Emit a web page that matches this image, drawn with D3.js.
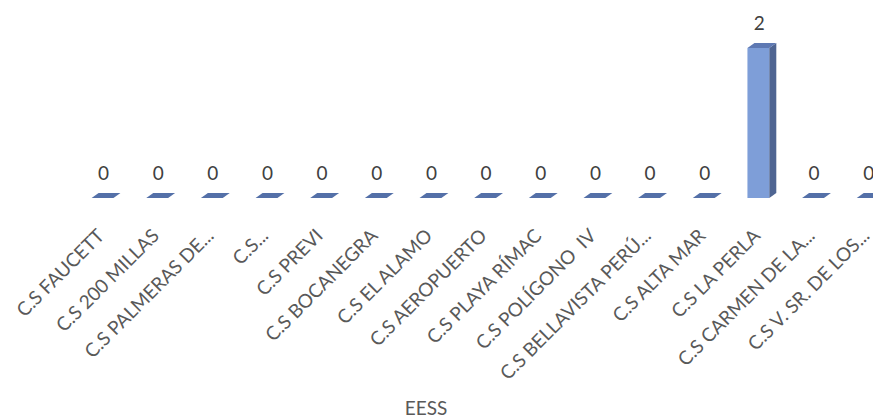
<!DOCTYPE html>
<html><head><meta charset="utf-8">
<script src="https://cdn.jsdelivr.net/npm/d3@7"></script>
<style>body{margin:0;background:#fff}svg{display:block}</style>
</head><body>
<svg id="c" width="873" height="419"></svg>
<script>
const categories = ["C.S FAUCETT","C.S 200 MILLAS","C.S PALMERAS DE...","C.S...","C.S PREVI","C.S BOCANEGRA","C.S EL ALAMO","C.S AEROPUERTO","C.S PLAYA RÍMAC","C.S POLÍGONO  IV","C.S BELLAVISTA PERÚ...","C.S ALTA MAR","C.S LA PERLA","C.S CARMEN DE LA...","C.S V. SR. DE LOS..."];
const values = [0,0,0,0,0,0,0,0,0,0,0,0,2,0,0];
const axisTitle = "EESS";

const svg = d3.select("#c");
const font = "Lato, 'Open Sans', sans-serif";
const x = d3.scaleBand().domain(categories).range([75.2, 895]).padding(0);
const y = d3.scaleLinear().domain([0, 2]).range([198, 48]);
const bw = x.bandwidth() * 0.4;
const dx = 7, dy = 5;

const g = svg.append("g");
categories.forEach((c, i) => {
  const cx = x(c) + x.bandwidth() / 2;
  const x0 = cx - bw / 2, x1 = cx + bw / 2;
  const yt = y(values[i]), yb = y(0);
  if (values[i] > 0) {
    g.append("rect").attr("x", x0).attr("y", yt).attr("width", bw).attr("height", yb - yt).attr("fill", "#7e9ed8");
    g.append("path").attr("d", `M${x1},${yt}L${x1+dx},${yt-dy}L${x1+dx},${yb-dy}L${x1},${yb}Z`).attr("fill", "#4f6592");
    g.append("path").attr("d", `M${x0},${yt}L${x0+dx},${yt-dy}L${x1+dx},${yt-dy}L${x1},${yt}Z`).attr("fill", "#5e79b3");
  } else {
    g.append("path").attr("d", `M${x0},${yb}L${x0+dx},${yb-dy}L${x1+dx},${yb-dy}L${x1},${yb}Z`).attr("fill", "#5470a8");
  }
  g.append("text").attr("x", cx + 1).attr("y", yt - dy - 13)
    .attr("text-anchor", "middle").attr("font-family", font).attr("font-size", 19)
    .attr("fill", "#404040").text(values[i]);
  g.append("text").attr("transform", `translate(${cx + 3},237) rotate(-45)`)
    .attr("text-anchor", "end").attr("font-family", font).attr("font-size", 19)
    .attr("fill", "#595959").style("white-space", "pre").text(c);
});
svg.append("text").attr("x", 426).attr("y", 415).attr("text-anchor", "middle")
  .attr("font-family", font).attr("font-size", 19).attr("fill", "#595959").text(axisTitle);
</script>
</body></html>
